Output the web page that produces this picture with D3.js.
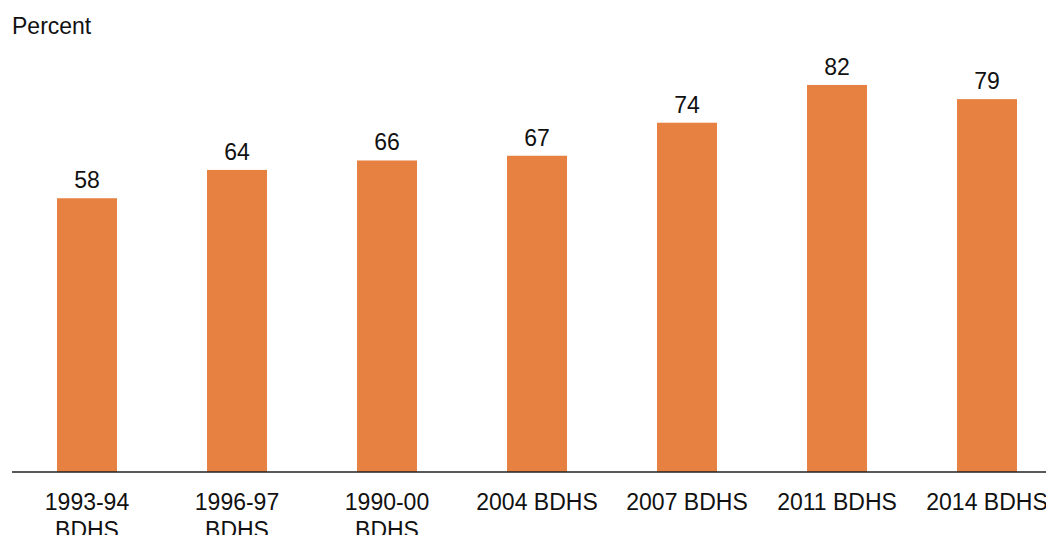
<!DOCTYPE html>
<html>
<head>
<meta charset="utf-8">
<script src="https://cdn.jsdelivr.net/npm/d3@7"></script>
<style>
  body { margin: 0; background: #fff; }
  svg { display: block; font-family: "Liberation Sans", Arial, sans-serif; }
</style>
</head>
<body>
<div id="chart"></div>
<script>
// survey rounds and values (percent)
var categories = ["1993-94\nBDHS", "1996-97\nBDHS", "1990-00\nBDHS", "2004 BDHS", "2007 BDHS", "2011 BDHS", "2014 BDHS"];
var values = [58, 64, 66, 67, 74, 82, 79];
var yTitle = "Percent";

var w = 1046,
    h = 535,
    baseline = 472,
    left = 12;

var data = categories.map(function(c, i) { return {category: c, value: values[i]}; });

var svg = d3.select("#chart")
    .append("svg")
        .attr("width", w)
        .attr("height", h);

var x = d3.scaleBand()
    .domain(categories)
    .range([left, left + 150 * categories.length])
    .paddingInner(0.6)
    .paddingOuter(0.3);

var y = d3.scaleLinear()
    .domain([0, 100])
    .range([baseline, 0]);

svg.append("text")
    .attr("x", 12)
    .attr("y", 34)
    .style("font-size", "23px")
    .attr("fill", "#111")
    .text(yTitle);

svg.selectAll(".bar")
    .data(data)
    .enter().append("rect")
        .attr("class", "bar")
        .attr("x", function(d) { return x(d.category); })
        .attr("y", function(d) { return y(d.value); })
        .attr("width", x.bandwidth())
        .attr("height", function(d) { return baseline - y(d.value); })
        .attr("fill", "#e68141");

svg.selectAll(".value")
    .data(data)
    .enter().append("text")
        .attr("class", "value")
        .attr("x", function(d) { return x(d.category) + x.bandwidth() / 2; })
        .attr("y", function(d) { return y(d.value) - 10; })
        .attr("text-anchor", "middle")
        .style("font-size", "23px")
        .attr("fill", "#111")
        .text(function(d) { return d.value; });

// x axis line, no ticks
var xAxis = d3.axisBottom(x).tickSize(0).tickSizeOuter(0).tickFormat("");
var gx = svg.append("g")
    .attr("transform", "translate(0," + baseline + ")")
    .call(xAxis);
gx.select(".domain").attr("stroke", "#222").attr("stroke-width", 1.5)
    .attr("d", "M" + left + ",0H" + w);

var labels = svg.selectAll(".cat")
    .data(data)
    .enter().append("text")
        .attr("class", "cat")
        .attr("text-anchor", "middle")
        .style("font-size", "23px")
        .attr("fill", "#111")
        .attr("transform", function(d) {
            return "translate(" + (x(d.category) + x.bandwidth() / 2) + "," + 510 + ")";
        });

labels.selectAll("tspan")
    .data(function(d) { return d.category.split("\n"); })
    .enter().append("tspan")
        .attr("x", 0)
        .attr("dy", function(d, i) { return i === 0 ? 0 : 28; })
        .text(function(d) { return d; });
</script>
</body>
</html>
